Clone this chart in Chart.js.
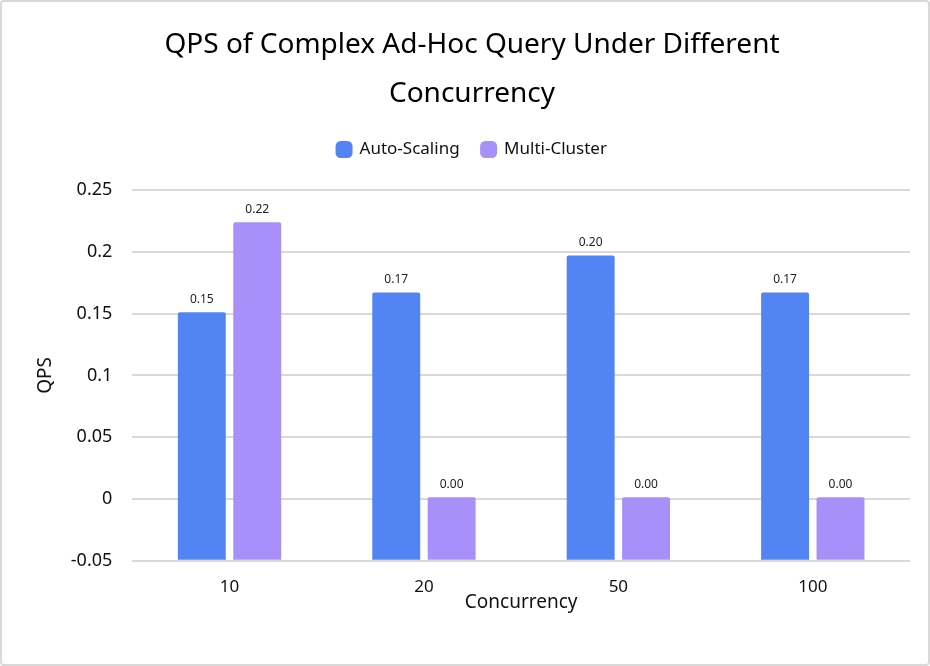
<!DOCTYPE html>
<html>
<head>
<meta charset="utf-8">
<script src="https://cdn.jsdelivr.net/npm/chart.js@4/dist/chart.umd.min.js"></script>
<style>
  body { margin: 0; background: #fff; }
  #wrap {
    width: 926px; height: 662px;
    border: 2px solid #d9d9d9; border-radius: 4px;
  }
</style>
</head>
<body>
<div id="wrap"><canvas id="qpsChart" width="926" height="662"></canvas></div>
<script>
const concurrency = ["10", "20", "50", "100"];
const autoScaling = [0.151, 0.167, 0.197, 0.167];
const multiCluster = [0.224, 0.0015, 0.0015, 0.0015];
const yTicks = [-0.05, 0, 0.05, 0.1, 0.15, 0.2, 0.25];

const barLabels = {
  id: "barLabels",
  afterDatasetsDraw(chart) {
    const ctx = chart.ctx;
    ctx.save();
    ctx.font = "12px 'Noto Sans'";
    ctx.fillStyle = "#222";
    ctx.textAlign = "center";
    ctx.textBaseline = "bottom";
    chart.data.datasets.forEach((ds, i) => {
      chart.getDatasetMeta(i).data.forEach((bar, j) => {
        ctx.fillText(ds.data[j].toFixed(2), bar.x, bar.y - 7);
      });
    });
    ctx.restore();
  }
};

// extra room under the legend
const legendGap = {
  id: "legendGap",
  beforeInit(chart) {
    const fit = chart.legend.fit;
    chart.legend.fit = function () {
      fit.bind(chart.legend)();
      this.height += 22;
    };
  }
};

const ctx = document.getElementById("qpsChart").getContext("2d");

new Chart(ctx, {
  type: "bar",
  data: {
    labels: concurrency,
    datasets: [
      {
        label: "Auto-Scaling",
        data: autoScaling,
        backgroundColor: "#5384f3",
        base: -0.05,
        borderRadius: 2,
        borderSkipped: "bottom"
      },
      {
        label: "Multi-Cluster",
        data: multiCluster,
        backgroundColor: "#a98ff9",
        base: -0.05,
        borderRadius: 2,
        borderSkipped: "bottom"
      }
    ]
  },
  options: {
    responsive: false,
    animation: false,
    categoryPercentage: 0.57,
    barPercentage: 0.865,
    layout: { padding: { top: 19, right: 18, left: 32, bottom: 46 } },
    plugins: {
      title: {
        display: true,
        text: ["QPS of Complex Ad-Hoc Query Under Different", "Concurrency"],
        color: "#000",
        font: { family: "'Noto Sans'", size: 28, weight: "normal", lineHeight: 1.75 },
        padding: { top: 0, bottom: 0 }
      },
      legend: {
        labels: {
          color: "#111",
          font: { family: "'Noto Sans'", size: 17 },
          usePointStyle: true,
          pointStyle: "rectRounded",
          boxWidth: 14,
          boxHeight: 14,
          padding: 22
        }
      },
      tooltip: { enabled: false }
    },
    scales: {
      x: {
        grid: { display: false },
        border: { display: false },
        ticks: { color: "#111", font: { family: "'Noto Sans'", size: 17 }, padding: 8 },
        title: {
          display: true,
          text: "Concurrency",
          color: "#111",
          font: { family: "'Noto Sans'", size: 19 },
          padding: { top: -14 }
        }
      },
      y: {
        min: -0.05,
        max: 0.25,
        afterBuildTicks(axis) {
          axis.ticks = yTicks.map(v => ({ value: v }));
        },
        grid: { color: "#d9d9d9", lineWidth: 2, drawTicks: false },
        border: { display: false },
        ticks: {
          color: "#111",
          font: { family: "'Noto Sans'", size: 18 },
          padding: 20,
          callback: v => String(Number(v.toFixed(2)))
        },
        title: {
          display: true,
          text: "QPS",
          color: "#111",
          font: { family: "'Noto Sans'", size: 19 },
          padding: { top: 0, bottom: -6 }
        }
      }
    }
  },
  plugins: [barLabels, legendGap]
});
</script>
</body>
</html>
